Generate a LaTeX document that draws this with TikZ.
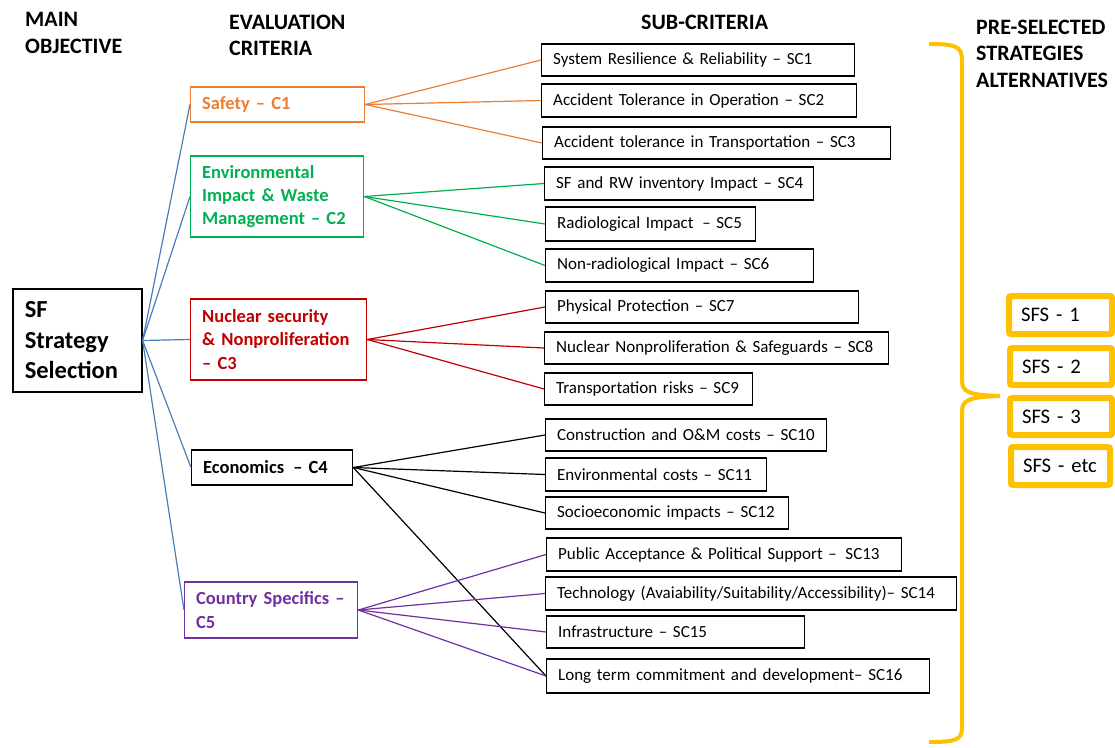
\documentclass[tikz,border=0pt]{standalone}
\usepackage{fontspec}
\setmainfont{Carlito}
\definecolor{cOrange}{HTML}{ED7D31}
\definecolor{cGreen}{HTML}{00B050}
\definecolor{cRed}{HTML}{C00000}
\definecolor{cPurple}{HTML}{7030A0}
\definecolor{cBlue}{HTML}{4A7EBB}
\definecolor{cGold}{HTML}{FFC000}
\begin{document}
\begin{tikzpicture}[x=1pt,y=-1pt,
  hdr/.style={anchor=north west, inner sep=0pt, align=left, font=\bfseries\fontsize{22}{26.6}\selectfont},
  mainbox/.style={draw=black, line width=1.6pt, anchor=west, inner xsep=12pt, inner ysep=0pt, align=left, font=\bfseries\fontsize{24.5}{30.5}\selectfont},
  crit/.style={draw, line width=1.3pt, anchor=west, inner xsep=11.5pt, inner ysep=0pt, align=left, font=\bfseries\fontsize{18.5}{23.3}\selectfont},
  sub/.style={draw=black, line width=1.3pt, anchor=west, inner xsep=11.5pt, inner ysep=0pt, align=left, font=\fontsize{17}{20}\selectfont},
  sfs/.style={draw=cGold, line width=6pt, rounded corners=2pt, outer sep=0pt, anchor=west, inner xsep=12pt, inner ysep=0pt, align=left, font=\fontsize{20.7}{24}\selectfont},
  conn/.style={line width=1.2pt}
]
\useasboundingbox (0,0) rectangle (1115,747);

% headers
\node[hdr] (h1) at (25,12.5) {MAIN\\OBJECTIVE};
\node[hdr] (h2) at (229,14.5) {EVALUATION\\CRITERIA};
\node[hdr, anchor=base west] (h3) at (641,29) {SUB-CRITERIA};
\node[hdr] (h4) at (976,19.5) {PRE-SELECTED\\STRATEGIES\\ALTERNATIVES};

% main objective
\node[mainbox, text width=105pt, minimum height=103pt] (main) at (12,340.5) {SF\\Strategy\\Selection};

% criteria
\node[crit, draw=cOrange, text=cOrange, text width=151pt, minimum height=35pt] (c1) at (190,104.5) {Safety – C1};
\node[crit, draw=cGreen, text=cGreen, text width=150pt, minimum height=81pt] (c2) at (190,196.5) {Environmental\\Impact \& Waste\\Management – C2};
\node[crit, draw=cRed, text=cRed, text width=153pt, minimum height=81pt] (c3) at (190,339.5) {Nuclear security\\\& Nonproliferation\\– C3};
\node[crit, draw=black, text=black, text width=138pt, minimum height=35pt] (c4) at (191,467.5) {Economics\hspace{3pt} – C4};
\node[crit, draw=cPurple, text=cPurple, text width=150pt, minimum height=56pt] (c5) at (184,610) {Country Specifics –\\C5};

% sub-criteria
\node[sub, text width=290pt, minimum height=32pt] (sc1) at (541,60) {\mbox{System Resilience \& Reliability – SC1}};
\node[sub, text width=292pt, minimum height=33pt] (sc2) at (541,100.5) {\mbox{Accident Tolerance in Operation – SC2}};
\node[sub, text width=325pt, minimum height=32pt] (sc3) at (542,143) {\mbox{Accident tolerance in Transportation – SC3}};
\node[sub, text width=246pt, minimum height=33pt] (sc4) at (544,183.5) {\mbox{SF and RW inventory Impact – SC4}};
\node[sub, text width=187pt, minimum height=34pt] (sc5) at (545,224) {\mbox{Radiological Impact\hspace{3pt} – SC5}};
\node[sub, text width=245pt, minimum height=33pt] (sc6) at (545,265.5) {\mbox{Non-radiological Impact – SC6}};
\node[sub, text width=290pt, minimum height=32pt] (sc7) at (545,307) {\mbox{Physical Protection – SC7}};
\node[sub, text width=321pt, minimum height=32pt] (sc8) at (544,348) {\mbox{Nuclear Nonproliferation \& Safeguards – SC8}};
\node[sub, text width=185pt, minimum height=32pt] (sc9) at (544,389) {\mbox{Transportation risks – SC9}};
\node[sub, text width=258pt, minimum height=32pt] (sc10) at (545,435) {\mbox{Construction and O\&M costs – SC10}};
\node[sub, text width=198pt, minimum height=33pt] (sc11) at (545,474.5) {\mbox{Environmental costs – SC11}};
\node[sub, text width=220pt, minimum height=32pt] (sc12) at (545,513) {\mbox{Socioeconomic impacts – SC12}};
\node[sub, text width=332pt, minimum height=33pt] (sc13) at (546,554.5) {\mbox{Public Acceptance \& Political Support –\hspace{3pt} SC13}};
\node[sub, text width=388pt, minimum height=33pt] (sc14) at (545,593.5) {\mbox{Technology (Avaiability/Suitability/Accessibility)– SC14}};
\node[sub, text width=235pt, minimum height=32pt] (sc15) at (546,632) {\mbox{Infrastructure – SC15}};
\node[sub, text width=360pt, minimum height=34pt] (sc16) at (546,676) {\mbox{Long term commitment and development– SC16}};

% strategies
\node[sfs, text width=79pt, minimum height=38pt] (s1) at (1009,315) {SFS - 1};
\node[sfs, text width=78pt, minimum height=37pt] (s2) at (1010,366.5) {SFS - 2};
\node[sfs, text width=78pt, minimum height=37pt] (s3) at (1010,416.5) {SFS - 3};
\node[sfs, text width=75pt, minimum height=38pt] (s4) at (1011,466) {SFS - etc};

% connectors
\foreach \c in {c1,c2,c3,c4,c5} \draw[conn, cBlue] (main.east) -- (\c.west);
\foreach \s in {sc1,sc2,sc3} \draw[conn, cOrange] (c1.east) -- (\s.west);
\foreach \s in {sc4,sc5,sc6} \draw[conn, cGreen] (c2.east) -- (\s.west);
\foreach \s in {sc7,sc8,sc9} \draw[conn, cRed] (c3.east) -- (\s.west);
\foreach \s in {sc10,sc11,sc12,sc16} \draw[conn, black] (c4.east) -- (\s.west);
\foreach \s in {sc13,sc14,sc15,sc16} \draw[conn, cPurple] (c5.east) -- (\s.west);

% brace
\draw[cGold, line width=4pt]
  (929,44) .. controls (955,44) and (962,46) .. (962,60)
  -- (962,380) .. controls (962,392) and (968,395) .. (1000,396)
  .. controls (968,397) and (962,400) .. (962,412)
  -- (962,728) .. controls (962,740) and (955,742) .. (929,742);
\end{tikzpicture}
\end{document}
